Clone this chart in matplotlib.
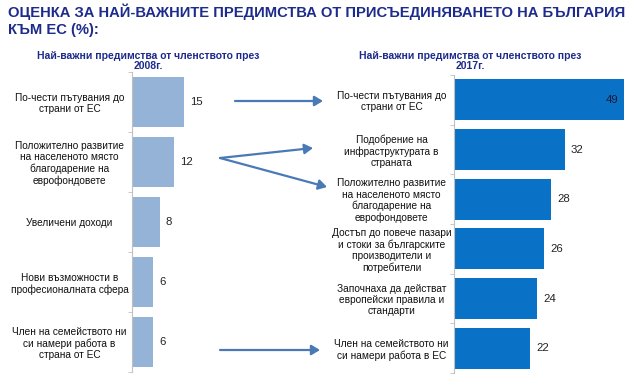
import matplotlib
matplotlib.use('Agg')
import matplotlib.pyplot as plt

plt.rcParams['font.family'] = ['Liberation Sans', 'DejaVu Sans']

cats_2008 = ["По-чести пътувания до\nстрани от ЕС",
             "Положително развитие\nна населеното място\nблагодарение на\nеврофондовете",
             "Увеличени доходи",
             "Нови възможности в\nпрофесионалната сфера",
             "Член на семейството ни\nси намери работа в\nстрана от ЕС"]
vals_2008 = [15, 12, 8, 6, 6]

cats_2017 = ["По-чести пътувания до\nстрани от ЕС",
             "Подобрение на\nинфраструктурата в\nстраната",
             "Положително развитие\nна населеното място\nблагодарение на\nеврофондовете",
             "Достъп до повече пазари\nи стоки за българските\nпроизводители и\nпотребители",
             "Започнаха да действат\nевропейски правила и\nстандарти",
             "Член на семейството ни\nси намери работа в ЕС"]
vals_2017 = [49, 32, 28, 26, 24, 22]

navy = '#1c2b8c'
W, H = 635, 381
fig = plt.figure(figsize=(6.35, 3.81), dpi=100)

def px(x, y):
    return (x / W, 1 - y / H)

def panel(rect, cats, vals, color, inside_max):
    ax = fig.add_axes(rect)
    n = len(cats)
    pos = list(range(n))
    ax.barh(pos, vals, height=0.83, color=color)
    ax.set_ylim(n - 0.5, -0.5)
    ax.set_xlim(0, 50)
    ax.set_yticks(pos)
    ax.set_yticklabels(cats, fontsize=7.3, ha='center', linespacing=1.15, color='#111111')
    ax.tick_params(axis='y', length=0, pad=45)
    ax.set_yticks([p + 0.5 for p in range(-1, n)], minor=True)
    ax.tick_params(axis='y', which='minor', length=3, color='#c0c0c0')
    ax.set_xticks([])
    for s in ['top', 'right', 'bottom']:
        ax.spines[s].set_visible(False)
    ax.spines['left'].set_color('#c0c0c0')
    for p, v in zip(pos, vals):
        if inside_max and v == max(vals):
            ax.text(v - 1.5, p, str(v), ha='right', va='center', fontsize=8.2, color='#1a1a3a')
        else:
            ax.text(v + 1.8, p, str(v), ha='left', va='center', fontsize=8.2, color='#222222')
    return ax

panel([132 / W, 1 - 372 / H, 173 / W, 300 / H], cats_2008, vals_2008, '#95b3d7', False)
panel([454 / W, 1 - 373 / H, 173 / W, 298 / H], cats_2017, vals_2017, '#0a72c6', True)

fig.text(8 / W, 1 - 12 / H, "ОЦЕНКА ЗА НАЙ-ВАЖНИТЕ ПРЕДИМСТВА ОТ ПРИСЪЕДИНЯВАНЕТО НА БЪЛГАРИЯ",
         fontsize=10.6, fontweight='bold', color=navy, va='center', ha='left')
fig.text(8 / W, 1 - 30 / H, "КЪМ ЕС (%):", fontsize=10.6, fontweight='bold', color=navy,
         va='center', ha='left')
fig.text(148 / W, 1 - 61 / H, "Най-важни предимства от членството през\n2008г.",
         fontsize=7.5, fontweight='bold', color=navy, ha='center', va='center', linespacing=1.1)
fig.text(470 / W, 1 - 61 / H, "Най-важни предимства от членството през\n2017г.",
         fontsize=7.5, fontweight='bold', color=navy, ha='center', va='center', linespacing=1.1)

arrows = [((235, 101), (323, 101)),
          ((220, 158), (313, 148)),
          ((220, 158), (327, 187)),
          ((220, 350), (320, 350))]
for a, b in arrows:
    fig.add_artist(matplotlib.patches.FancyArrowPatch(
        px(*a), px(*b), transform=fig.transFigure, arrowstyle='-|>,head_length=5,head_width=3',
        color='#4a7ab5', lw=1.6, shrinkA=0, shrinkB=0))

fig.savefig('out.png', dpi=100)
